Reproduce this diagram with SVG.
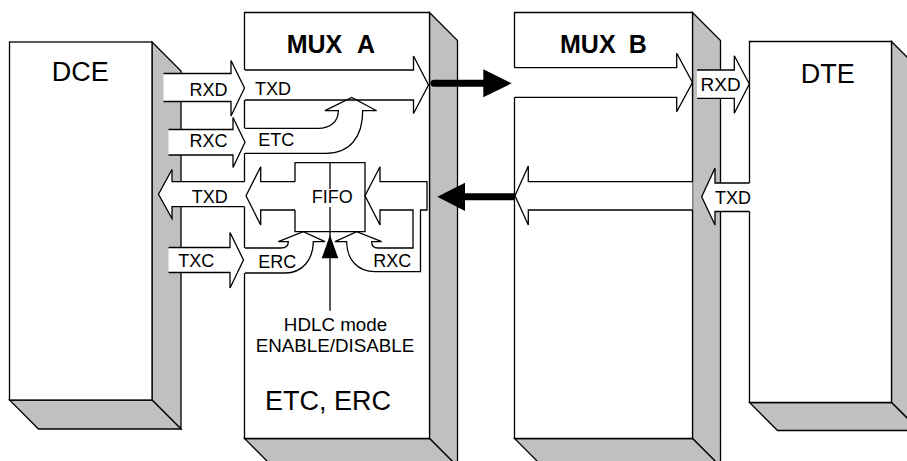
<svg xmlns="http://www.w3.org/2000/svg" width="907" height="461" viewBox="0 0 907 461">
<style>
.sh{fill:#c0c0c0;stroke:#000;stroke-width:1.3;stroke-linejoin:miter}
.fr{fill:#fff;stroke:none}
.ln{fill:none;stroke:#000;stroke-width:1.3;stroke-linejoin:miter}
.wf{fill:#fff;stroke:none}
.t{font-family:"Liberation Sans",Arial,sans-serif;fill:#000}
.s{font-size:18px}
.b{font-size:27px}
.h{font-size:25px;font-weight:bold}
.m{font-size:18.8px;text-anchor:middle}
</style>
<rect width="907" height="461" fill="#fff"/>

<g id="dce">
  <polygon class="sh" points="152,42 181,71 181,429 152,400"/>
  <polygon class="sh" points="9.5,400 152,400 181,429 38.5,429"/>
  <rect class="fr" x="9.5" y="42" width="142.5" height="358"/>
  <rect class="ln" x="9.5" y="42" width="142.5" height="358"/>
  <text class="t b" x="51.7" y="81">DCE</text>
</g>

<g id="muxA">
  <polygon class="sh" points="429.5,12.5 457.5,40.5 457.5,466.5 429.5,438.5"/>
  <polygon class="sh" points="244.5,438.5 429.5,438.5 457.5,466.5 272.5,466.5"/>
  <rect class="fr" x="244.5" y="12.5" width="185" height="426"/>
  <path class="ln" d="M244.5,70 V12.5 H429.5 V438.5 H244.5 V273 M244.5,248 V206.7 M244.5,181.7 V153.3 M244.5,128.3 V100"/>
  <text class="t h" x="286.7" y="52.7">MUX</text>
  <text class="t h" x="357" y="52.7">A</text>
  <!-- TXD through arrow -->
  <path class="ln" d="M245,70 H413.5 V56 L428.5,85 L413.5,113.5 V100 H245"/>
  <text class="t s" x="255" y="95">TXD</text>
  <!-- ETC curved arrow -->
  <path class="ln" d="M245,128.3 H318 C330,128.3 338.3,122 338.3,110.7 H325 L351.7,97.5 L376.7,110.7 H362.7 C362.7,137 350,153.3 326,153.3 H245"/>
  <text class="t s" x="258.3" y="146">ETC</text>
  <!-- FIFO -->
  <path class="ln" d="M295,181.7 V162.7 H365 V231.7 H295 V210"/>
  <path class="ln" d="M330,162.7 V189 M330,207 V310.7"/>
  <text class="t s" x="311.7" y="203.3">FIFO</text>
  <!-- FIFO -> TXD -->
  <path class="ln" d="M295,181.7 H260.7 V166.7 L246,195.8 L260.7,225 V210 H295"/>
  <!-- RXC / data into FIFO from right -->
  <path class="ln" d="M380,166.7 L365,195.8 L380,225 V210 H413 V248 H378 C374,248 371.7,246 371.7,241.7 H381.7 L356.7,231.7 L335,241.7 H346.7 C346.7,260 358,271.7 375,271.7 H420.5 V210 H427 V181.7 H380 Z"/>
  <text class="t s" x="373.3" y="267.3">RXC</text>
  <!-- ERC curved arrow -->
  <path class="ln" d="M245,248 H281 C285,248 288.3,246 288.3,241.7 H278.3 L303.3,231.7 L325,241.7 H313.3 C313.3,260 302,273 285,273 H245"/>
  <text class="t s" x="258.3" y="268.3">ERC</text>
  <polygon points="321.7,258.3 338.3,258.3 330,235" fill="#000"/>
  <text class="t m" x="335.5" y="330.7">HDLC mode</text>
  <text class="t m" x="335" y="351.7">ENABLE/DISABLE</text>
  <text class="t b" x="265" y="410">ETC, ERC</text>
</g>

<g id="muxB">
  <polygon class="sh" points="692.5,12.5 720.5,40.5 720.5,466.5 692.5,438.5"/>
  <polygon class="sh" points="514.5,438.5 692.5,438.5 720.5,466.5 542.5,466.5"/>
  <rect class="fr" x="514.5" y="12.5" width="178" height="426"/>
  <path class="ln" d="M514.5,67.7 V12.5 H692.5 V181.7 M692.5,210 V438.5 H514.5 V97.3"/>
  <text class="t h" x="560" y="52.7">MUX</text>
  <text class="t h" x="628.7" y="52.7">B</text>
  <path class="ln" d="M514.5,67.7 H676.7 V53.3 L692.5,82.5 L676.7,111.7 V97.3 H514.5"/>
  <path class="ln" d="M692.5,181.7 H528.3 V166 L515,195.8 L528.3,225 V210 H692.5"/>
</g>

<g id="dte">
  <polygon class="sh" points="891.5,41.5 919.5,69.5 919.5,430.5 891.5,402.5"/>
  <polygon class="sh" points="749.5,402.5 891.5,402.5 919.5,430.5 777.5,430.5"/>
  <rect class="fr" x="749.5" y="41.5" width="142" height="361"/>
  <path class="ln" d="M749.5,183 V41.5 H891.5 V402.5 H749.5 V211.5"/>
  <text class="t b" x="800.7" y="83.3">DTE</text>
</g>

<g id="connectors">
  <!-- DCE RXD -->
  <path class="wf" d="M163.5,73.5 H231 V60.5 L244.5,88 L231,116 V101.5 H163.5 Z"/>
  <path class="ln" d="M163.5,73.5 H231 V60.5 L244.5,88 L231,116 V101.5 H163.5"/>
  <text class="t s" x="189.5" y="96">RXD</text>
  <!-- DCE RXC -->
  <path class="wf" d="M168.5,129.5 H233 V117.5 L245,142.3 L233,167.5 V155 H168.5 Z"/>
  <path class="ln" d="M168.5,129.5 H233 V117.5 L245,142.3 L233,167.5 V155 H168.5"/>
  <text class="t s" x="189.5" y="146.5">RXC</text>
  <!-- DCE TXD -->
  <path class="wf" d="M244.5,181.7 H172 V169.5 L158.5,194.2 L172,218.5 V206.7 H244.5 Z"/>
  <path class="ln" d="M244.5,181.7 H172 V169.5 L158.5,194.2 L172,218.5 V206.7 H244.5"/>
  <text class="t s" x="191.7" y="203.3">TXD</text>
  <!-- DCE TXC -->
  <path class="wf" d="M168.5,247.5 H230 V232.5 L243.5,260 L230,288 V272.5 H168.5 Z"/>
  <path class="ln" d="M168.5,247.5 H230 V232.5 L243.5,260 L230,288 V272.5 H168.5"/>
  <text class="t s" x="178.3" y="266.7">TXC</text>
  <!-- black link arrows -->
  <line x1="434" y1="83.3" x2="485" y2="83.3" stroke="#000" stroke-width="7" stroke-linecap="round"/>
  <polygon points="483.3,69.3 511.7,83.3 483.3,97.3" fill="#000"/>
  <line x1="463" y1="196.8" x2="515" y2="196.8" stroke="#000" stroke-width="7"/>
  <polygon points="465,182.7 437.3,196.8 465,211" fill="#000"/>
  <!-- DTE RXD -->
  <path class="wf" d="M697,70 H734.3 V55.7 L749.3,84 L734.3,113.3 V98.3 H697 Z"/>
  <path class="ln" d="M697,70 H734.3 V55.7 L749.3,84 L734.3,113.3 V98.3 H697"/>
  <text class="t s" x="700.5" y="91" style="font-size:19px">RXD</text>
  <!-- DTE TXD -->
  <path class="wf" d="M749.5,183 H715 V168 L701.7,196.8 L715,225 V211.5 H749.5 Z"/>
  <path class="ln" d="M749.5,183 H715 V168 L701.7,196.8 L715,225 V211.5 H749.5"/>
  <text class="t s" x="715" y="204">TXD</text>
</g>
</svg>
